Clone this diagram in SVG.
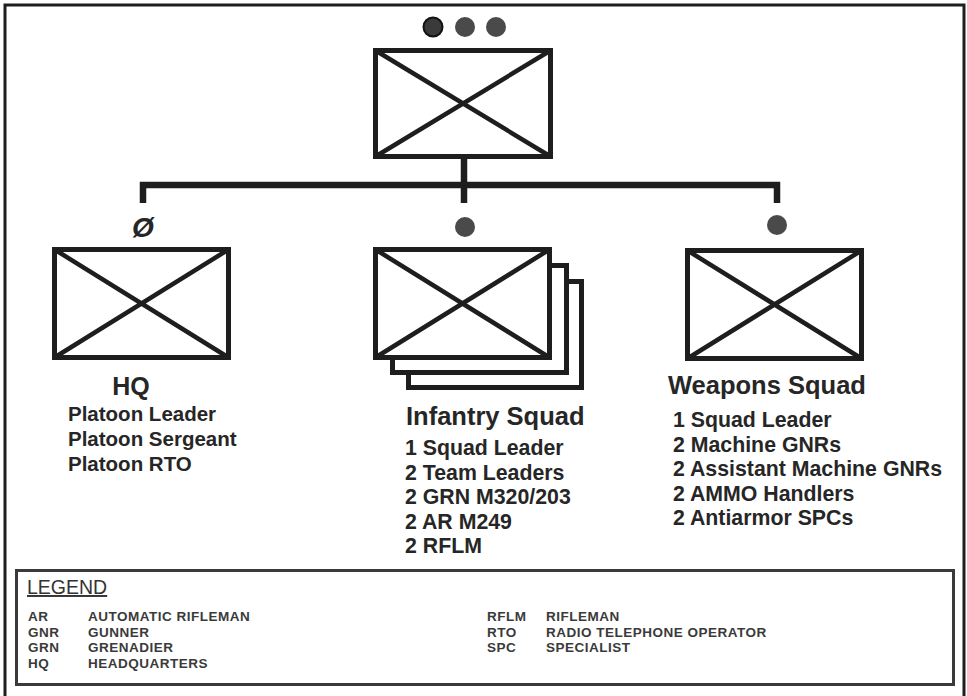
<svg xmlns="http://www.w3.org/2000/svg" width="967" height="696" viewBox="0 0 967 696">
<style>
.box{fill:#fff;stroke:#1e1e1e;stroke-width:5}
.x{stroke:#1e1e1e;stroke-width:4.5;fill:none}
.conn{stroke:#1e1e1e;stroke-width:6.5;fill:none}
.dot{fill:#4a4a4a}
.t{font-family:"Liberation Sans",Arial,sans-serif;font-weight:bold;fill:#262626}
.h{font-size:25.5px}
.l{font-size:21.3px}
.lh{font-size:20.5px}
.lg{font-family:"Liberation Sans",Arial,sans-serif;font-weight:bold;font-size:13.5px;letter-spacing:0.5px;fill:#3a3a3a}
</style>
<rect x="0" y="0" width="967" height="696" fill="#fff"/>
<path d="M5,696 V5 H964 V696" fill="none" stroke="#1e1e1e" stroke-width="3"/>

<g id="connectors">
<path class="conn" d="M464,158 V185"/>
<path class="conn" d="M143,203 V185 H777 V203"/>
<path class="conn" d="M464,185 V203"/>
</g>

<g id="platoon">
<circle cx="433" cy="27" r="9.5" fill="#3a3a3a" stroke="#111" stroke-width="2"/>
<circle class="dot" cx="465" cy="27" r="10"/>
<circle class="dot" cx="496" cy="27" r="10"/>
<rect class="box" x="375.5" y="50.5" width="175" height="106"/>
<path class="x" d="M375.5,50.5 L550.5,156.5 M550.5,50.5 L375.5,156.5"/>
</g>

<g id="hq">
<text class="t" x="143" y="237" font-size="28" font-style="italic" text-anchor="middle">Ø</text>
<rect class="box" x="54.5" y="249.5" width="174" height="108"/>
<path class="x" d="M54.5,249.5 L228.5,357.5 M228.5,249.5 L54.5,357.5"/>
<text class="t" x="131" y="395" font-size="25" text-anchor="middle">HQ</text>
<text class="t lh" x="68" y="421">Platoon Leader</text>
<text class="t lh" x="68" y="446">Platoon Sergeant</text>
<text class="t lh" x="68" y="471">Platoon RTO</text>
</g>

<g id="infantry">
<circle class="dot" cx="465" cy="227" r="10"/>
<rect class="box" x="408.5" y="281.5" width="173" height="106"/>
<rect class="box" x="392.5" y="265.5" width="174" height="107"/>
<rect class="box" x="375.5" y="249.5" width="174" height="108"/>
<path class="x" d="M375.5,249.5 L549.5,357.5 M549.5,249.5 L375.5,357.5"/>
<text class="t h" x="406" y="425">Infantry Squad</text>
<text class="t l" x="405" y="455">1 Squad Leader</text>
<text class="t l" x="405" y="479.5">2 Team Leaders</text>
<text class="t l" x="405" y="504">2 GRN M320/203</text>
<text class="t l" x="405" y="528.5">2 AR M249</text>
<text class="t l" x="405" y="553">2 RFLM</text>
</g>

<g id="weapons">
<circle class="dot" cx="777" cy="225" r="10"/>
<rect class="box" x="687.5" y="250.5" width="174" height="108"/>
<path class="x" d="M687.5,250.5 L861.5,358.5 M861.5,250.5 L687.5,358.5"/>
<text class="t h" x="668" y="394">Weapons Squad</text>
<text class="t l" x="673" y="427">1 Squad Leader</text>
<text class="t l" x="673" y="451.5">2 Machine GNRs</text>
<text class="t l" x="673" y="476">2 Assistant Machine GNRs</text>
<text class="t l" x="673" y="500.5">2 AMMO Handlers</text>
<text class="t l" x="673" y="525">2 Antiarmor SPCs</text>
</g>

<g id="legend">
<rect x="16.5" y="570.5" width="937" height="114" fill="#fff" stroke="#3a3a3a" stroke-width="3"/>
<text x="27" y="594" font-family="Liberation Sans, Arial, sans-serif" font-size="19.5" fill="#333" text-decoration="underline">LEGEND</text>
<text class="lg" x="28" y="621">AR</text>
<text class="lg" x="88" y="621">AUTOMATIC RIFLEMAN</text>
<text class="lg" x="28" y="636.5">GNR</text>
<text class="lg" x="88" y="636.5">GUNNER</text>
<text class="lg" x="28" y="652">GRN</text>
<text class="lg" x="88" y="652">GRENADIER</text>
<text class="lg" x="28" y="667.5">HQ</text>
<text class="lg" x="88" y="667.5">HEADQUARTERS</text>
<text class="lg" x="487" y="621">RFLM</text>
<text class="lg" x="546" y="621">RIFLEMAN</text>
<text class="lg" x="487" y="636.5">RTO</text>
<text class="lg" x="546" y="636.5">RADIO TELEPHONE OPERATOR</text>
<text class="lg" x="487" y="652">SPC</text>
<text class="lg" x="546" y="652">SPECIALIST</text>
</g>
</svg>
